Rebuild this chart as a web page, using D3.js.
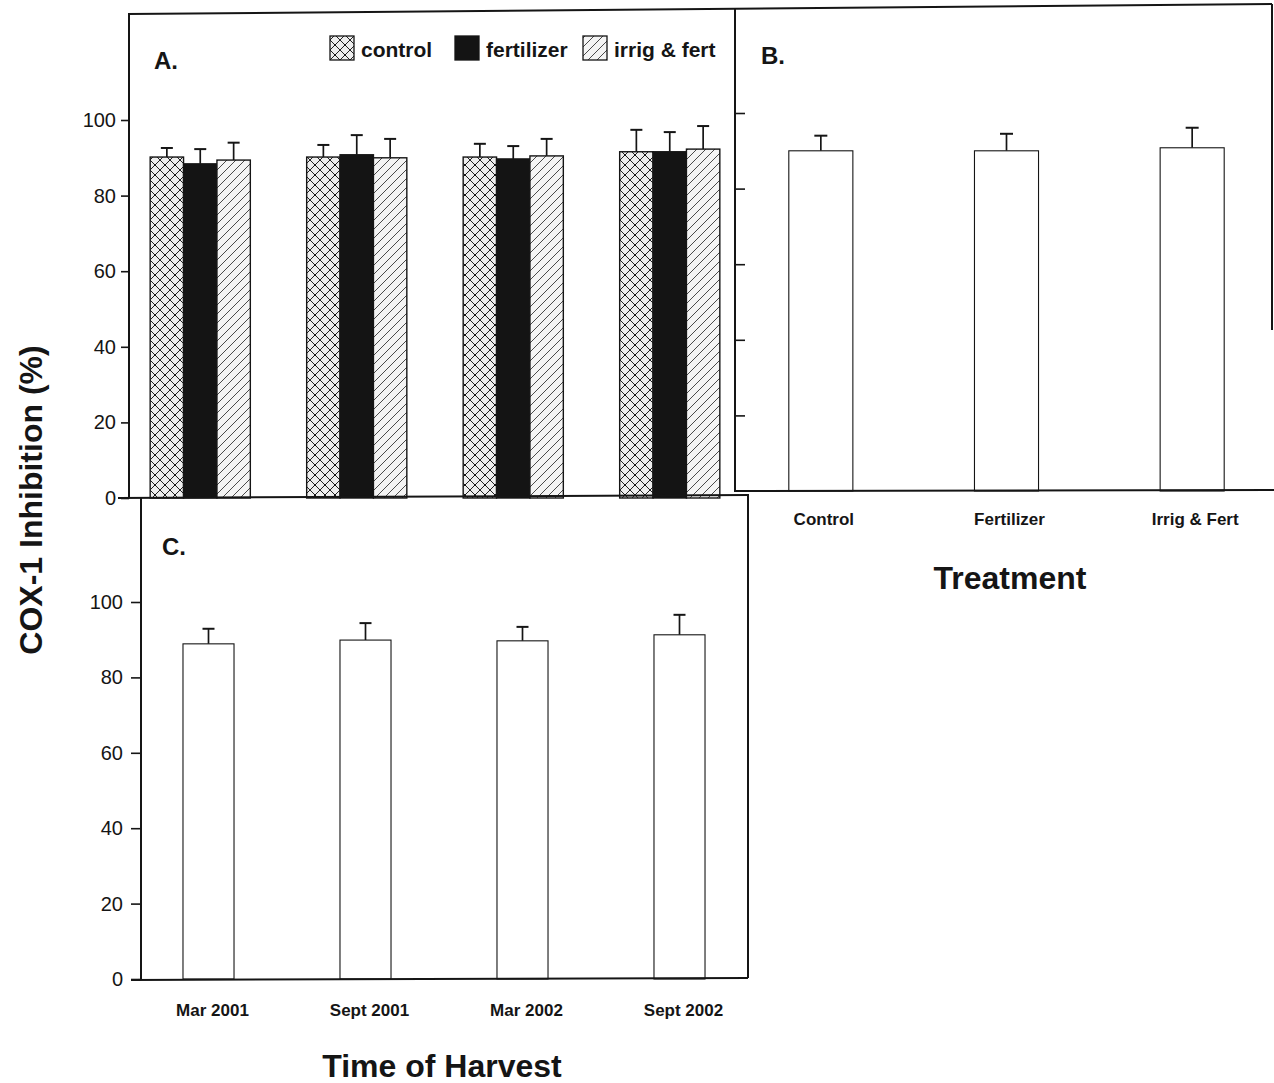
<!DOCTYPE html>
<html><head><meta charset="utf-8">
<script src="https://cdn.jsdelivr.net/npm/d3@7"></script>
<style>
html,body{margin:0;padding:0;background:#fff;}
svg{display:block;font-family:"Liberation Sans",Arial,sans-serif;}
</style></head>
<body>
<svg id="c" width="1274" height="1083"></svg>
<script>
// ---- data ----
const harvests = ["Mar 2001", "Sept 2001", "Mar 2002", "Sept 2002"];
const treatments = ["control", "fertilizer", "irrig & fert"];
const treatmentTicks = ["Control", "Fertilizer", "Irrig & Fert"];
const yTicks = [0, 20, 40, 60, 80, 100];

// Panel A: treatment x harvest
const aControl = [90.2, 90.2, 90.2, 91.6];
const aControlErr = [2.4, 3.2, 3.5, 5.8];
const aFert = [88.4, 90.8, 89.7, 91.6];
const aFertErr = [3.9, 5.2, 3.4, 5.2];
const aIrrig = [89.4, 90.0, 90.5, 92.3];
const aIrrigErr = [4.6, 5.0, 4.5, 6.1];

// Panel B: by treatment
const bMeans = [90.0, 90.0, 90.8];
const bErr = [4.0, 4.5, 5.3];

// Panel C: by harvest
const cMeans = [88.9, 89.9, 89.7, 91.3];
const cErr = [4.0, 4.5, 3.7, 5.3];

// ---- drawing ----
const svg = d3.select("#c");
const defs = svg.append("defs");

// crosshatch pattern (control)
const pc = defs.append("pattern").attr("id", "cross").attr("patternUnits", "userSpaceOnUse")
  .attr("width", 10).attr("height", 10);
pc.append("rect").attr("width", 10).attr("height", 10).attr("fill", "#eeeeee");
pc.append("path").attr("d", "M0,0L10,10M10,0L0,10").attr("stroke", "#222").attr("stroke-width", 1);
pc.append("circle").attr("cx", 5).attr("cy", 5).attr("r", 1.1).attr("fill", "#111");

// diagonal hatch pattern (irrig & fert)
const ph = defs.append("pattern").attr("id", "hatch").attr("patternUnits", "userSpaceOnUse")
  .attr("width", 9).attr("height", 9);
ph.append("rect").attr("width", 9).attr("height", 9).attr("fill", "#f4f4f4");
ph.append("path").attr("d", "M0,9L9,0M-2,2L2,-2M7,11L11,7").attr("stroke", "#4a4a4a").attr("stroke-width", 1);

const fills = {"control": "url(#cross)", "fertilizer": "#141414", "irrig & fert": "url(#hatch)"};
const aSeries = {
  "control": {m: aControl, e: aControlErr},
  "fertilizer": {m: aFert, e: aFertErr},
  "irrig & fert": {m: aIrrig, e: aIrrigErr}
};

const ink = "#151515";

function errorBar(g, cx, yTop, yErr, cap) {
  g.append("line").attr("x1", cx).attr("x2", cx).attr("y1", yTop).attr("y2", yErr)
    .attr("stroke", ink).attr("stroke-width", 1.7);
  g.append("line").attr("x1", cx - cap / 2).attr("x2", cx + cap / 2).attr("y1", yErr).attr("y2", yErr)
    .attr("stroke", ink).attr("stroke-width", 2);
}

function styleAxis(g, fontSize) {
  g.select(".domain").remove();
  g.selectAll(".tick line").attr("stroke", ink).attr("stroke-width", 1.6);
  g.selectAll(".tick text").attr("fill", ink).attr("font-size", fontSize);
}

// ---------- Panel A ----------
const yA = d3.scaleLinear().domain([0, 100]).range([498, 120]);
const xA = d3.scaleBand().domain(harvests).range([122, 748]).paddingInner(0.36).paddingOuter(0.18);
const xA1 = d3.scaleBand().domain(treatments).range([0, xA.bandwidth()]);

const gA = svg.append("g");
harvests.forEach((h, i) => {
  treatments.forEach(t => {
    const v = aSeries[t].m[i], e = aSeries[t].e[i];
    const x = xA(h) + xA1(t);
    const cx = x + xA1.bandwidth() / 2;
    errorBar(gA, cx, yA(v), yA(v + e), 12);
    gA.append("rect").attr("x", x).attr("y", yA(v)).attr("width", xA1.bandwidth())
      .attr("height", yA(0) - yA(v)).attr("fill", fills[t]).attr("stroke", ink).attr("stroke-width", 1.4);
  });
});
const axA = svg.append("g").attr("transform", "translate(129,0)")
  .call(d3.axisLeft(yA).tickValues(yTicks).tickSize(8).tickPadding(5));
styleAxis(axA, 20);

// legend
const leg = svg.append("g");
const legX = [330, 455, 583];
treatments.forEach((t, i) => {
  leg.append("rect").attr("x", legX[i]).attr("y", 36).attr("width", 24).attr("height", 24)
    .attr("fill", fills[t]).attr("stroke", ink).attr("stroke-width", 1.3);
  leg.append("text").attr("x", legX[i] + 31).attr("y", 57).attr("font-size", 21).attr("font-weight", "bold")
    .attr("fill", ink).text(t);
});
svg.append("text").attr("x", 154).attr("y", 69).attr("font-size", 24).attr("font-weight", "bold").attr("fill", ink).text("A.");

// ---------- Panel B ----------
const yB = d3.scaleLinear().domain([0, 100]).range([491, 113]);
const xB = d3.scaleBand().domain(treatmentTicks).range([728, 1285]).paddingInner(0.655).paddingOuter(0.3275);
const gB = svg.append("g");
treatmentTicks.forEach((t, i) => {
  const x = xB(t), cx = x + xB.bandwidth() / 2;
  errorBar(gB, cx, yB(bMeans[i]), yB(bMeans[i] + bErr[i]), 13);
  gB.append("rect").attr("x", x).attr("y", yB(bMeans[i])).attr("width", xB.bandwidth())
    .attr("height", yB(0) - yB(bMeans[i])).attr("fill", "#fff").attr("stroke", ink).attr("stroke-width", 1.1);
});
const axB = svg.append("g").attr("transform", "translate(735,0)")
  .call(d3.axisRight(yB).tickValues(yTicks.slice(1)).tickSize(10).tickFormat(""));
styleAxis(axB, 0);
const axBx = svg.append("g").attr("transform", "translate(0,491)")
  .call(d3.axisBottom(xB).tickSize(0).tickPadding(22));
styleAxis(axBx, 17);
axBx.selectAll(".tick text").attr("font-weight", "bold").attr("dx", 3);
svg.append("text").attr("x", 761).attr("y", 64).attr("font-size", 24).attr("font-weight", "bold").attr("fill", ink).text("B.");
svg.append("text").attr("x", 1010).attr("y", 589).attr("text-anchor", "middle").attr("font-size", 32)
  .attr("font-weight", "bold").attr("fill", ink).text("Treatment");

// ---------- Panel C ----------
const yC = d3.scaleLinear().domain([0, 100]).range([979, 602]);
const xC = d3.scaleBand().domain(harvests).range([130, 758]).paddingInner(0.675).paddingOuter(0.3375);
const gC = svg.append("g");
harvests.forEach((h, i) => {
  const x = xC(h), cx = x + xC.bandwidth() / 2;
  errorBar(gC, cx, yC(cMeans[i]), yC(cMeans[i] + cErr[i]), 12);
  gC.append("rect").attr("x", x).attr("y", yC(cMeans[i])).attr("width", xC.bandwidth())
    .attr("height", yC(0) - yC(cMeans[i])).attr("fill", "#fff").attr("stroke", ink).attr("stroke-width", 1.1);
});
const axC = svg.append("g").attr("transform", "translate(141,0)")
  .call(d3.axisLeft(yC).tickValues(yTicks).tickSize(10).tickPadding(8));
styleAxis(axC, 20);
const axCx = svg.append("g").attr("transform", "translate(0,979)")
  .call(d3.axisBottom(xC).tickSize(0).tickPadding(25));
styleAxis(axCx, 17);
axCx.selectAll(".tick text").attr("font-weight", "bold").attr("dx", 4);
svg.append("text").attr("x", 162).attr("y", 555).attr("font-size", 24).attr("font-weight", "bold").attr("fill", ink).text("C.");
svg.append("text").attr("x", 442).attr("y", 1077).attr("text-anchor", "middle").attr("font-size", 32)
  .attr("font-weight", "bold").attr("fill", ink).text("Time of Harvest");

// y title
svg.append("text").attr("transform", "translate(42,500) rotate(-90)").attr("text-anchor", "middle")
  .attr("font-size", 32).attr("font-weight", "bold").attr("fill", ink).text("COX-1 Inhibition (%)");

// ---------- frames ----------
const frame = svg.append("g").attr("stroke", ink).attr("fill", "none").attr("stroke-width", 2);
frame.append("path").attr("d", "M128,14L1272,4");          // top
frame.append("path").attr("d", "M129,14L129,498");          // A left / y axis
frame.append("path").attr("d", "M735,9L735,492");           // A|B divider
frame.append("path").attr("d", "M735,491L1274,490");        // B bottom
frame.append("path").attr("d", "M1272,4L1272,330");         // B right
frame.append("path").attr("d", "M118,498L748,495");         // A bottom / C top
frame.append("path").attr("d", "M141,497L141,980");         // C left
frame.append("path").attr("d", "M748,494L748,978");         // C right
frame.append("path").attr("d", "M131,980L748,978");         // C bottom
</script>
</body></html>
